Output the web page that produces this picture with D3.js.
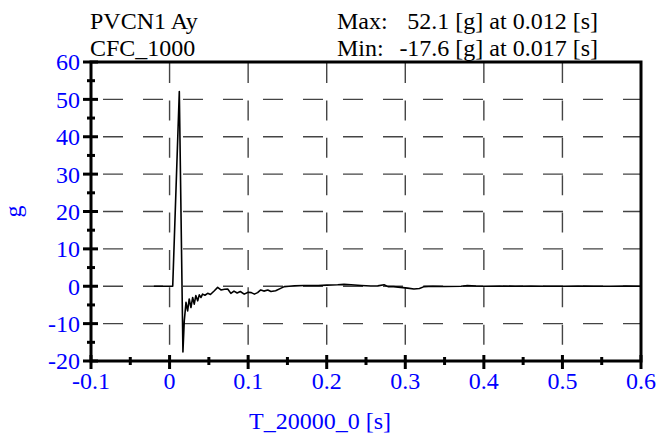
<!DOCTYPE html>
<html><head><meta charset="utf-8">
<script src="https://cdn.jsdelivr.net/npm/d3@7"></script>
<style>body{margin:0;background:#fff;} svg{display:block;}</style>
</head><body>
<svg id="c" width="659" height="437"></svg>
<script>
// ---- data ----
const timeS = [-0.02, 0.0, 0.004, 0.0124, 0.017, 0.0187, 0.0209, 0.023, 0.025, 0.0272, 0.0294, 0.0314, 0.0334, 0.0358, 0.0378, 0.040, 0.042, 0.045, 0.0485, 0.052, 0.057, 0.0612, 0.0654, 0.070, 0.074, 0.078, 0.082, 0.086, 0.090, 0.095, 0.100, 0.104, 0.108, 0.112, 0.116, 0.120, 0.125, 0.129, 0.135, 0.142, 0.146, 0.152, 0.159, 0.171, 0.189, 0.200, 0.214, 0.222, 0.231, 0.244, 0.256, 0.265, 0.273, 0.278, 0.285, 0.294, 0.303, 0.311, 0.318, 0.324, 0.335, 0.350, 0.371, 0.379, 0.390, 0.400, 0.420, 0.440, 0.460, 0.480, 0.500, 0.520, 0.540, 0.560, 0.580, 0.600];
const accelG = [0, 0, 0, 52.1, -17.6, -9.3, -4.3, -6.6, -3.4, -5.7, -3.0, -4.8, -2.5, -3.9, -2.3, -3.0, -2.1, -2.4, -1.9, -2.2, -1.2, -0.3, -1.0, -0.8, -0.75, -1.9, -1.3, -1.8, -1.4, -2.1, -1.6, -1.7, -2.1, -1.7, -1.0, -1.3, -1.0, -1.4, -1.2, -0.5, -0.1, 0.0, 0.1, 0.2, 0.2, 0.3, 0.4, 0.5, 0.4, 0.2, 0.05, 0.1, 0.4, -0.1, -0.1, -0.3, -0.5, -0.75, -0.6, -0.1, 0.0, -0.05, 0.0, 0.2, 0.05, 0.0, 0.05, 0.0, 0.05, 0.0, 0.0, 0.05, 0.0, 0.0, 0.05, 0.0];
const xTicks = [-0.1, 0, 0.1, 0.2, 0.3, 0.4, 0.5, 0.6];
const xTickLabels = ["-0.1", "0", "0.1", "0.2", "0.3", "0.4", "0.5", "0.6"];
const yTicks = [-20, -10, 0, 10, 20, 30, 40, 50, 60];
const xMinor = [-0.05, 0.05, 0.15, 0.25, 0.35, 0.45, 0.55];
const yMinor = [-15, -5, 5, 15, 25, 35, 45, 55];
const titleLines = ["PVCN1 Ay", "CFC_1000"];
const statLabels = ["Max:", "Min:"];
const statValues = ["52.1 [g] at 0.012 [s]", "-17.6 [g] at 0.017 [s]"];
const xTitle = "T_20000_0 [s]";
const yTitle = "g";

// ---- layout ----
const L = 91, R = 641, T = 62, B = 361;
const svg = d3.select("#c");
const x = d3.scaleLinear().domain([-0.1, 0.6]).range([L, R]);
const y = d3.scaleLinear().domain([-20, 60]).range([B, T]);
const font = "'Liberation Serif','Times New Roman',serif";
const blue = "#0000ff";
const fs = 24;

// grid
const g = svg.append("g");
g.selectAll("line.h").data(yTicks.filter(v => v > -20 && v < 60)).join("line")
  .attr("x1", L).attr("x2", R).attr("y1", d => y(d)).attr("y2", d => y(d))
  .attr("stroke", "#444").attr("stroke-width", 1.4)
  .attr("stroke-dasharray", "20,20").attr("stroke-dashoffset", 28);
g.selectAll("line.v").data(xTicks.filter(v => v > -0.1 && v < 0.6)).join("line")
  .attr("x1", d => x(d)).attr("x2", d => x(d)).attr("y1", T).attr("y2", B)
  .attr("stroke", "#444").attr("stroke-width", 1.4)
  .attr("stroke-dasharray", "20," + (y(0) - y(10) - 20).toFixed(2)).attr("stroke-dashoffset", -1);

// data line
svg.append("path").datum(d3.zip(timeS, accelG))
  .attr("d", d3.line().x(d => x(d[0])).y(d => y(d[1])))
  .attr("fill", "none").attr("stroke", "#000").attr("stroke-width", 1.6).attr("stroke-linejoin", "round");

// frame
svg.append("rect").attr("x", L).attr("y", T).attr("width", R - L).attr("height", B - T)
  .attr("fill", "none").attr("stroke", "#000").attr("stroke-width", 3);

// axes ticks
const ax = svg.append("g").attr("stroke", "#000").attr("stroke-width", 3);
ax.selectAll("line.ym").data(yTicks).join("line")
  .attr("x1", L - 8).attr("x2", L + 7).attr("y1", d => y(d)).attr("y2", d => y(d));
ax.selectAll("line.yn").data(yMinor).join("line")
  .attr("x1", L - 4).attr("x2", L + 4).attr("y1", d => y(d)).attr("y2", d => y(d));
ax.selectAll("line.xm").data(xTicks).join("line")
  .attr("x1", d => x(d)).attr("x2", d => x(d)).attr("y1", B - 6).attr("y2", B + 8);
ax.selectAll("line.xn").data(xMinor).join("line")
  .attr("x1", d => x(d)).attr("x2", d => x(d)).attr("y1", B - 4).attr("y2", B + 4);

// tick labels
svg.append("g").selectAll("text").data(yTicks).join("text")
  .attr("x", L - 11).attr("y", d => y(d)).attr("dy", "0.35em")
  .attr("text-anchor", "end").attr("fill", blue)
  .style("font-family", font).style("font-size", fs + "px").text(d => d);
svg.append("g").selectAll("text").data(xTicks).join("text")
  .attr("x", d => x(d)).attr("y", 389)
  .attr("text-anchor", "middle").attr("fill", blue)
  .style("font-family", font).style("font-size", fs + "px").text((d, i) => xTickLabels[i]);

// axis titles
svg.append("text").attr("x", (L + R) / 2 - 46).attr("y", 429).attr("text-anchor", "middle")
  .attr("fill", blue).style("font-family", font).style("font-size", fs + "px").text(xTitle);
svg.append("text").attr("transform", `translate(21,${(T + B) / 2}) rotate(-90)`)
  .attr("text-anchor", "middle").attr("fill", blue)
  .style("font-family", font).style("font-size", fs + "px").text(yTitle);

// header
const hd = svg.append("g").style("font-family", font).style("font-size", fs + "px").attr("fill", "#000");
hd.selectAll("text.t").data(titleLines).join("text").attr("x", 90).attr("y", (d, i) => 29 + i * 27).text(d => d);
hd.selectAll("text.s").data(statLabels).join("text").attr("x", 337).attr("y", (d, i) => 29 + i * 27).text(d => d);
hd.selectAll("text.v").data(statValues).join("text").attr("x", 598).attr("y", (d, i) => 29 + i * 27)
  .attr("text-anchor", "end").text(d => d);
</script>
</body></html>
